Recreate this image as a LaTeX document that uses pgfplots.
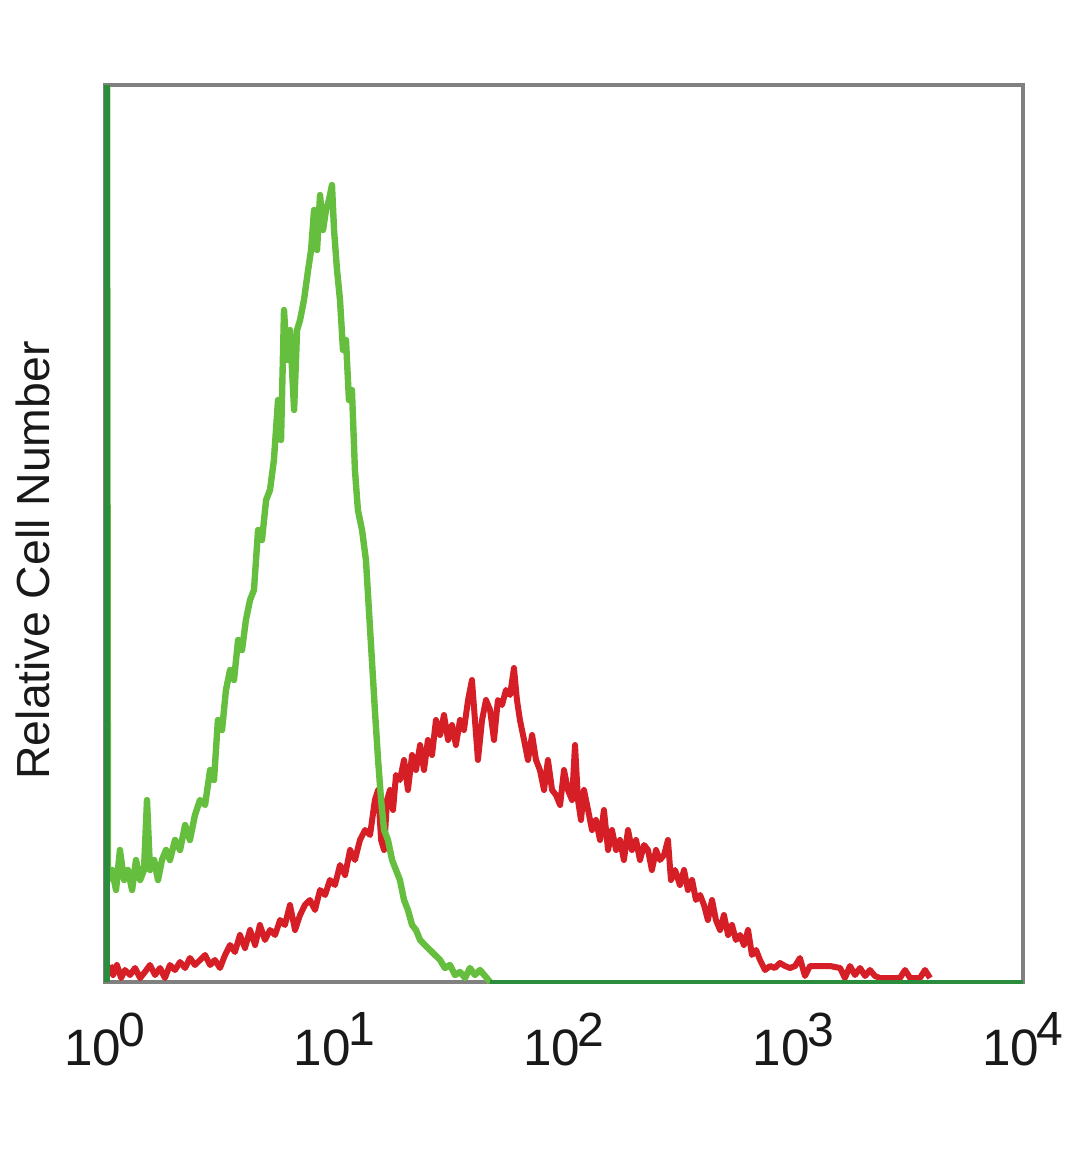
\documentclass[border=0pt]{standalone}
\usepackage{fontspec}
\setmainfont{Liberation Sans}
\usepackage{pgfplots}
\pgfplotsset{compat=1.18}
\definecolor{lgreen}{RGB}{102,190,62}
\definecolor{dgreen}{RGB}{44,140,62}
\definecolor{hred}{RGB}{214,30,38}
\definecolor{frame}{RGB}{128,128,128}
\newcommand{\dec}[1]{10\kern-0.6pt\raisebox{4.8pt}{\fontsize{12}{12}\selectfont #1}}
\begin{document}
\begin{tikzpicture}
\path[use as bounding box] (-26.25pt,-46.75pt) rectangle (243.75pt,245.5pt);
\begin{axis}[
  at={(0,0)}, anchor=south west,
  scale only axis, width=229.5pt, height=224.25pt,
  xmin=0, xmax=4, ymin=0, ymax=897,
  clip=false,
  axis line style={draw=frame, line width=1pt},
  ytick=\empty,
  xtick={0,1,2,3,4},
  xticklabels={\dec{0},\dec{1},\dec{2},\dec{3},\dec{4}},
  major tick length=0pt,
  xticklabel style={font=\fontsize{12.8}{14}\selectfont, inner sep=0pt, yshift=-7.5pt, text=black!90},
  ylabel={Relative Cell Number},
  ylabel style={at={(axis description cs:-0.0785,0.47)}, anchor=center, font=\fontsize{11.6}{13}\selectfont, text=black!90},
]
% red histogram
\addplot[hred, line width=1.5pt, line join=round] coordinates {
(0.022,17)(0.035,7)(0.052,17)(0.070,4)(0.087,12)(0.109,7)(0.131,14)(0.153,4)(0.174,10)(0.196,17)
(0.218,7)(0.240,14)(0.261,4)(0.283,17)(0.305,12)(0.327,20)(0.349,14)(0.370,24)(0.392,17)(0.414,22)
(0.436,27)(0.458,17)(0.479,22)(0.501,14)(0.523,27)(0.545,37)(0.566,30)(0.588,47)(0.610,34)(0.632,52)
(0.654,37)(0.675,57)(0.697,42)(0.719,52)(0.741,47)(0.763,62)(0.784,57)(0.806,77)(0.828,52)(0.850,67)
(0.871,77)(0.893,82)(0.915,72)(0.937,92)(0.959,87)(0.980,102)(1.002,97)(1.024,117)(1.046,107)(1.068,132)
(1.089,122)(1.111,142)(1.133,152)(1.155,147)(1.176,182)(1.190,192)(1.203,142)(1.216,132)(1.229,182)(1.242,192)
(1.255,172)(1.268,207)(1.285,202)(1.303,222)(1.320,192)(1.338,227)(1.355,212)(1.373,237)(1.390,212)(1.407,242)
(1.425,227)(1.442,262)(1.460,247)(1.477,267)(1.495,242)(1.512,257)(1.529,237)(1.547,262)(1.564,252)(1.582,282)
(1.599,302)(1.612,262)(1.625,222)(1.643,262)(1.660,282)(1.678,272)(1.695,242)(1.712,282)(1.730,277)(1.747,292)
(1.765,287)(1.782,314)(1.795,282)(1.808,262)(1.826,242)(1.843,222)(1.861,247)(1.878,222)(1.895,212)(1.913,192)
(1.930,222)(1.948,192)(1.965,187)(1.983,177)(2.000,212)(2.017,192)(2.035,182)(2.048,237)(2.061,182)(2.074,162)
(2.087,192)(2.105,172)(2.122,152)(2.139,162)(2.157,142)(2.174,172)(2.192,132)(2.209,152)(2.227,132)(2.244,142)
(2.261,122)(2.279,152)(2.296,132)(2.314,142)(2.331,122)(2.349,137)(2.366,132)(2.383,112)(2.401,132)(2.418,122)
(2.436,127)(2.453,142)(2.466,102)(2.484,112)(2.505,97)(2.523,112)(2.540,92)(2.558,102)(2.575,82)(2.593,87)
(2.610,77)(2.627,62)(2.645,82)(2.662,62)(2.680,52)(2.697,67)(2.715,47)(2.732,57)(2.749,42)(2.767,47)
(2.784,37)(2.802,52)(2.819,27)(2.837,32)(2.854,22)(2.876,12)(2.898,16)(2.919,14)(2.941,19)(2.963,16)
(2.985,14)(3.007,16)(3.028,24)(3.050,6)(3.072,16)(3.094,16)(3.115,16)(3.137,16)(3.159,16)(3.203,14)
(3.224,4)(3.246,16)(3.268,7)(3.290,14)(3.312,6)(3.333,12)(3.355,6)(3.377,4)(3.464,4)(3.486,12)
(3.508,4)(3.551,4)(3.573,12)(3.595,4)
};
% green histogram
\addplot[lgreen, line width=1.6pt, line join=round] coordinates {
(0.009,897)(0.013,102)(0.031,112)(0.048,92)(0.065,132)(0.083,102)(0.100,112)(0.118,92)(0.135,122)(0.153,102)
(0.170,112)(0.183,182)(0.196,112)(0.214,122)(0.231,102)(0.248,122)(0.266,132)(0.283,122)(0.305,142)(0.327,132)
(0.349,157)(0.370,142)(0.392,167)(0.414,182)(0.436,177)(0.458,212)(0.475,202)(0.492,262)(0.510,252)(0.527,292)
(0.545,312)(0.562,302)(0.580,342)(0.597,332)(0.614,362)(0.632,382)(0.649,392)(0.667,452)(0.684,442)(0.702,482)
(0.719,492)(0.736,522)(0.754,582)(0.767,542)(0.780,672)(0.793,622)(0.806,652)(0.824,572)(0.837,652)(0.850,662)
(0.867,682)(0.885,712)(0.898,732)(0.911,772)(0.924,732)(0.937,787)(0.950,752)(0.963,772)(0.976,782)(0.989,797)
(0.998,752)(1.011,712)(1.024,682)(1.037,632)(1.050,642)(1.063,582)(1.076,592)(1.089,512)(1.102,472)(1.120,452)
(1.137,422)(1.150,372)(1.163,322)(1.176,272)(1.190,222)(1.203,182)(1.216,152)(1.233,142)(1.251,122)(1.268,112)
(1.285,102)(1.303,82)(1.320,72)(1.338,57)(1.355,52)(1.373,42)(1.394,37)(1.416,32)(1.438,27)(1.460,22)
(1.481,14)(1.503,17)(1.525,7)(1.547,10)(1.569,4)(1.590,14)(1.612,7)(1.634,12)(1.656,6)(1.678,0)
};
% green portions lying on the axis lines
\addplot[dgreen, line width=1.4pt] coordinates {(0.009,0)(0.009,897)};
\addplot[dgreen, line width=1.2pt] coordinates {(1.678,0)(4,0)};
\end{axis}
\end{tikzpicture}
\end{document}
